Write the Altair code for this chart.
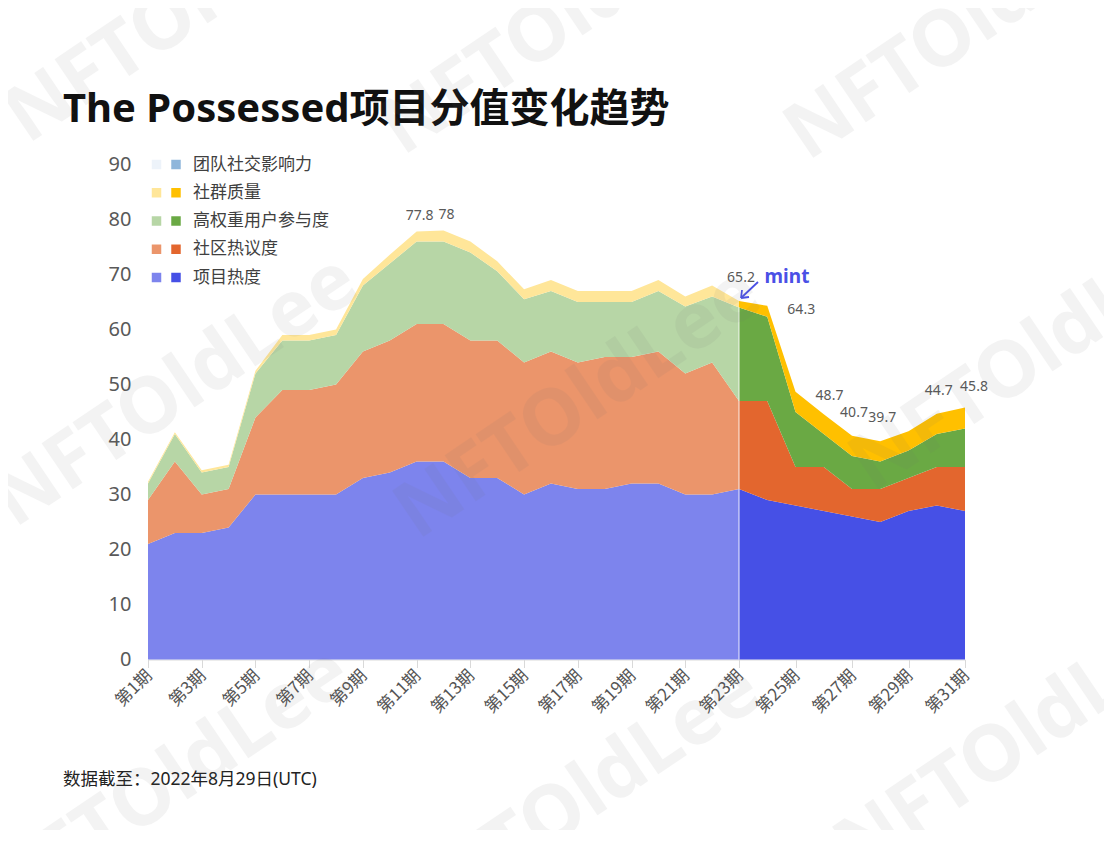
import altair as alt
import pandas as pd

# ---------------- data ----------------
periods_light = list(range(1, 24))
periods_dark = list(range(23, 32))

series = ["项目热度", "社区热议度", "高权重用户参与度", "社群质量"]
legend_names = ["团队社交影响力", "社群质量", "高权重用户参与度", "社区热议度", "项目热度"]

heat_light = [21, 23, 23, 24, 30, 30, 30, 30, 33, 34, 36, 36, 33, 33, 30, 32, 31, 31, 32, 32, 30, 30, 31]
talk_light = [8, 13, 7, 7, 14, 19, 19, 20, 23, 24, 25, 25, 25, 25, 24, 24, 23, 24, 23, 24, 22, 24, 16]
whale_light = [3, 5, 4, 4, 8, 9, 9, 9, 12, 14, 15, 15, 16, 12.6, 11.5, 11, 11, 10, 10, 11, 12.2, 12, 17]
quality_light = [0.3, 0.3, 0.4, 0.4, 0.5, 1, 1, 1, 1.2, 1.6, 1.8, 2, 2, 1.8, 1.8, 2, 2, 2, 2, 2, 1.8, 2, 1.2]

heat_dark = [31, 29, 28, 27, 26, 25, 27, 28, 27]
talk_dark = [16, 18, 7, 8, 5, 6, 6, 7, 8]
whale_dark = [17, 15.3, 10, 6, 6, 5, 5, 6, 7]
quality_dark = [1.2, 2, 3.7, 3.6, 3.7, 3.7, 3.5, 3.7, 3.8]

labels_above_hi = [11, 12]
labels_above = [23, 27, 28, 30]
labels_end = [31]
labels_right = [24, 25]

x_ticks = list(range(1, 32, 2))
x_tick_labels = ["第%d期" % p for p in x_ticks]
y_ticks = list(range(0, 91, 10))

# ---------------- styles ----------------
light_pal = ["#7d84ed", "#eb956b", "#b7d6a6", "#ffe699"]
dark_pal = ["#4650e6", "#e3662e", "#6aa944", "#ffc000"]
legend_light = ["#edf3fa", "#ffe699", "#b7d6a6", "#eb956b", "#7d84ed"]
legend_dark = ["#8fb6db", "#ffc000", "#6aa944", "#e3662e", "#4650e6"]
FONT = "Noto Sans, Noto Sans CJK SC, sans-serif"
W, H = 817, 495
OX, OY = 148, 164.5  # plot origin on the page (for decorations)


def long_df(periods, cols):
    rows = []
    for rank, (name, vals) in enumerate(zip(series, cols)):
        for p, v in zip(periods, vals):
            rows.append({"period": p, "series": name, "value": v, "rank": rank})
    return pd.DataFrame(rows)


light_df = long_df(periods_light, [heat_light, talk_light, whale_light, quality_light])
dark_df = long_df(periods_dark, [heat_dark, talk_dark, whale_dark, quality_dark])

totals = {}
for p, a, b, c, d in zip(periods_light, heat_light, talk_light, whale_light, quality_light):
    totals[p] = round(a + b + c + d, 1)
for p, a, b, c, d in zip(periods_dark, heat_dark, talk_dark, whale_dark, quality_dark):
    totals[p] = round(a + b + c + d, 1)


def label_df(ps):
    return pd.DataFrame({"period": ps, "total": [totals[p] for p in ps]})


xscale = alt.Scale(domain=[1, 23, 31], range=[0, 591, W])
yscale = alt.Scale(domain=[0, 90], nice=False, zero=True)
xaxis = alt.Axis(
    values=x_ticks, labels=False, tickSize=8, tickColor="#d9d9d9", domainColor="#d9d9d9",
    grid=False, title=None,
)
yaxis = alt.Axis(
    values=y_ticks, labelFontSize=20, labelColor="#595959", labelFont=FONT,
    labelPadding=17, grid=False, domain=False, ticks=False, title=None,
)

light = alt.Chart(light_df).mark_area(interpolate="linear").encode(
    x=alt.X("period:Q", scale=xscale, axis=xaxis),
    y=alt.Y("value:Q", stack="zero", scale=yscale, axis=yaxis),
    color=alt.Color("series:N", scale=alt.Scale(domain=series, range=light_pal), legend=None),
    order=alt.Order("rank:Q", sort="ascending"),
)

dark = alt.Chart(dark_df).mark_area(interpolate="linear").encode(
    x=alt.X("period:Q", scale=xscale, axis=xaxis),
    y=alt.Y("value:Q", stack="zero", scale=yscale, axis=None),
    color=alt.Color("series:N", scale=alt.Scale(domain=series, range=dark_pal), legend=None),
    order=alt.Order("rank:Q", sort="ascending"),
)

# rotated x tick labels, one text layer per label
xlabels = [
    alt.Chart(pd.DataFrame({"period": [p], "label": [lab]})).mark_text(
        text=lab, angle=315, align="right", baseline="middle", fontSize=17,
        color="#555555", font="Noto Sans CJK SC", dx=2,
    ).encode(
        x=alt.X("period:Q", scale=xscale, axis=xaxis),
        y=alt.value(H + 15),
    )
    for p, lab in zip(x_ticks, x_tick_labels)
]

sep_df = pd.DataFrame({"period": [23], "lo": [0], "hi": [heat_dark[0] + talk_dark[0] + whale_dark[0]]})
sep = alt.Chart(sep_df).mark_rule(color="white", strokeWidth=1.2, opacity=0.75).encode(
    x=alt.X("period:Q", scale=xscale, axis=xaxis),
    y=alt.Y("lo:Q", scale=yscale, axis=None),
    y2="hi:Q",
)

lab_style = dict(fontSize=14, color="#595959", font=FONT, align="center", baseline="middle")


def label_layer(ps, dx, dy):
    return alt.Chart(label_df(ps)).mark_text(dx=dx, dy=dy, **lab_style).encode(
        x=alt.X("period:Q", scale=xscale, axis=xaxis),
        y=alt.Y("total:Q", scale=yscale, axis=None),
        text=alt.Text("total:Q", format=".1~f"),
    )


labels = [
    label_layer(labels_above_hi, 3, -16),
    label_layer(labels_above, 2, -23),
    label_layer(labels_end, 9, -21),
    label_layer(labels_right, 34, 4),
]

mint = alt.Chart(label_df([23])).mark_text(
    text="mint", dx=48, dy=-24, fontSize=19, fontWeight="bold", color="#4a50e6",
    font=FONT, align="center", baseline="middle",
).encode(
    x=alt.X("period:Q", scale=xscale, axis=xaxis),
    y=alt.Y("total:Q", scale=yscale, axis=None),
)

one = pd.DataFrame({"k": [0]})
arrow_color = "#4a50e6"
arrow = [
    alt.Chart(one).mark_rule(color=arrow_color, strokeWidth=1.8).encode(
        x=alt.value(758 - OX), x2=alt.value(741.5 - OX), y=alt.value(282 - OY), y2=alt.value(297.5 - OY)),
    alt.Chart(one).mark_rule(color=arrow_color, strokeWidth=1.8).encode(
        x=alt.value(741 - OX), x2=alt.value(749 - OX), y=alt.value(298 - OY), y2=alt.value(297 - OY)),
    alt.Chart(one).mark_rule(color=arrow_color, strokeWidth=1.8).encode(
        x=alt.value(741 - OX), x2=alt.value(742 - OX), y=alt.value(298 - OY), y2=alt.value(290 - OY)),
]

# ---------------- legend (two swatches per entry) ----------------
leg_df = pd.DataFrame({"name": legend_names})
leg_y = alt.Y("name:N", sort=legend_names,
              scale=alt.Scale(type="point", range=[0, 113], padding=0), axis=None)
leg_sw_light = alt.Chart(leg_df).mark_square(size=90, opacity=1).encode(
    x=alt.value(8.5), y=leg_y,
    color=alt.Color("name:N", scale=alt.Scale(domain=legend_names, range=legend_light), legend=None),
)
leg_sw_dark = alt.Chart(leg_df).mark_square(size=90, opacity=1).encode(
    x=alt.value(28), y=leg_y,
    color=alt.Color("name:N", scale=alt.Scale(domain=legend_names, range=legend_dark), legend=None),
)
leg_text = alt.Chart(leg_df).mark_text(
    align="left", baseline="middle", fontSize=17, color="#404040", font=FONT
).encode(x=alt.value(45), y=leg_y, text="name:N")

# ---------------- title / footer / watermark ----------------
title = alt.Chart(one).mark_text(
    text="The Possessed项目分值变化趋势", align="left", baseline="alphabetic",
    fontSize=40, fontWeight="bold", color="#111111", font=FONT,
).encode(x=alt.value(63 - OX), y=alt.value(122 - OY))

footer = alt.Chart(one).mark_text(
    text="数据截至：2022年8月29日(UTC)", align="left", baseline="middle",
    fontSize=17.5, color="#222222", font=FONT,
).encode(x=alt.value(63 - OX), y=alt.value(780 - OY))

wm_centers = [(189, 8), (564, 20), (969, 25), (176, 392), (579, 404), (1034, 356),
              (169, 784), (579, 800), (1019, 740)]
watermarks = [
    alt.Chart(one).mark_text(
        text="NFTOldLee", angle=326, fontSize=78, fontWeight="bold", color="#707070",
        opacity=0.08, font="Noto Sans", align="center", baseline="middle",
    ).encode(x=alt.value(cx - OX), y=alt.value(cy - OY))
    for cx, cy in wm_centers
]

chart = alt.layer(
    light, dark, sep, *xlabels, *labels, mint, *arrow,
    leg_sw_light, leg_sw_dark, leg_text, title, footer, *watermarks,
).resolve_scale(
    y="independent", color="independent"
).properties(
    width=W, height=H,
    padding={"left": 140, "top": 156.5, "right": 139, "bottom": 170},
    autosize=alt.AutoSizeParams(type="none"),
).configure(
    background="white", view=alt.ViewConfig(stroke=None)
)

chart.save("out.html", embed_options={"renderer": "svg", "actions": False})
